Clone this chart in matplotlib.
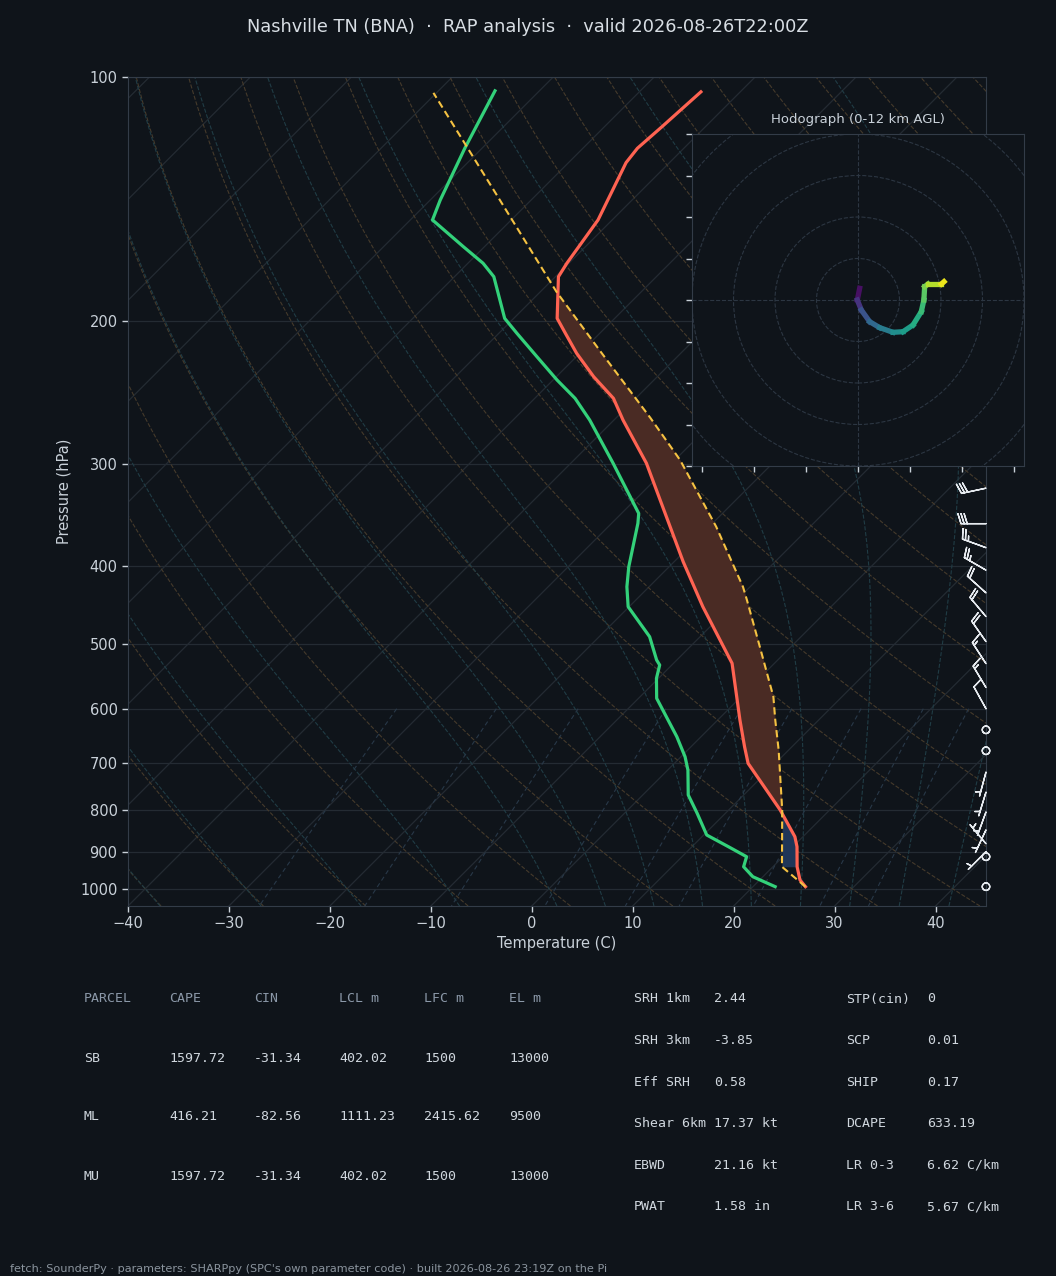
import numpy as np
import matplotlib
matplotlib.use('Agg')
import matplotlib.pyplot as plt
import matplotlib.transforms as mtransforms
from matplotlib.collections import LineCollection
from matplotlib.colors import Normalize
from matplotlib.patches import Circle

# ---- environment sounding (hPa, degC) ----
temp_p = [994, 975.4, 939.4, 887.4, 862.6, 799.7, 700.6, 668.3, 619.6, 527.5,
          449.3, 395.5, 299.1, 264.6, 248.8, 234.0, 219.0, 206.9, 198.3, 176.2,
          169.6, 150.0, 127.5, 122.4, 115.1, 104.3]
temp_c = [25.2, 24.0, 22.4, 20.4, 19.2, 15.1, 7.3, 5.3, 2.2, -4.2,
          -12.7, -19.1, -32.5, -39.1, -42.2, -46.3, -50.3, -53.4, -55.7, -59.7,
          -60.2, -61.4, -64.3, -64.6, -64.3, -63.9]

dewp_p = [994, 966.3, 939.4, 913.0, 887.4, 858.5, 807.2, 766.3, 714.0, 687.6,
          649.6, 582.6, 550.5, 530.1, 522.6, 489.2, 449.3, 424.6, 401.1, 354.6,
          344.8, 299.1, 264.6, 248.8, 236.2, 221.1, 206.9, 198.3, 176.2, 169.6,
          161.8, 150.0, 141.8, 122.4, 104.0]
dewp_c = [22.2, 19.0, 17.1, 16.4, 13.6, 10.3, 7.2, 4.5, 2.0, 0.4,
          -2.4, -8.2, -10.2, -11.2, -12.0, -15.0, -20.1, -22.2, -24.0, -27.4,
          -28.3, -35.8, -42.4, -46.0, -49.6, -53.9, -58.2, -60.9, -66.1, -68.5,
          -72.1, -77.8, -79.0, -81.7, -84.4]

# surface-based parcel path
parcel_p = [994, 939.4, 799.7, 674.5, 619.6, 579.9, 503.2, 440.8, 424.6, 358.1,
            296.3, 263.0, 219.0, 183.9, 137.8, 104.6]
parcel_c = [25.2, 20.9, 15.3, 9.0, 5.7, 3.2, -3.1, -9.0, -10.7, -19.3,
            -29.5, -36.6, -47.8, -58.4, -74.7, -90.3]
lcl_p, lfc_p, el_p = 939.4, 799.7, 183.9

# wind barbs (hPa, deg, kt)
barb_p = [121, 140, 165, 195, 230, 265, 295,
          321, 355, 380, 405, 432, 462, 496, 528, 565, 600,
          637, 676, 718, 760, 804, 846, 880, 900, 913, 994]
barb_dir = [260, 260, 262, 262, 260, 258, 258,
            258, 270, 290, 300, 312, 320, 325, 327, 329, 331,
            0, 0, 195, 197, 200, 205, 320, 225, 0, 0]
barb_kt = [35, 35, 35, 35, 35, 30, 30,
           30, 30, 25, 25, 20, 20, 20, 15, 15, 10,
           0, 0, 5, 5, 5, 5, 5, 5, 0, 0]

# hodograph (m/s) and height (km AGL)
hodo_u = [0.32, -0.13, 0.64, 2.25, 4.18, 6.75, 8.68, 10.6, 12.2, 12.7, 12.85, 13.5, 16.07, 16.58]
hodo_v = [2.25, 0.0, -1.93, -4.18, -5.33, -6.23, -6.11, -4.82, -2.25, 0.0, 2.57, 3.08, 3.08, 3.53]
hodo_z = [0, 1.0, 2.5, 3.6, 4.5, 5.5, 6.3, 7.0, 7.8, 8.6, 9.3, 10.0, 11.3, 12.0]
hodo_rings = [8, 16, 24, 32, 40]

# parameter tables
parcel_cols = ['PARCEL', 'CAPE', 'CIN', 'LCL m', 'LFC m', 'EL m']
parcel_rows = [['SB', '1597.72', '-31.34', '402.02', '1500', '13000'],
               ['ML', '416.21', '-82.56', '1111.23', '2415.62', '9500'],
               ['MU', '1597.72', '-31.34', '402.02', '1500', '13000']]
param_left = [('SRH 1km', '2.44'), ('SRH 3km', '-3.85'), ('Eff SRH', '0.58'),
              ('Shear 6km', '17.37 kt'), ('EBWD', '21.16 kt'), ('PWAT', '1.58 in')]
param_right = [('STP(cin)', '0'), ('SCP', '0.01'), ('SHIP', '0.17'),
               ('DCAPE', '633.19'), ('LR 0-3', '6.62 C/km'), ('LR 3-6', '5.67 C/km')]

BG = '#0f141a'
SPINE = '#333c48'
GRID = '#242b33'
TXT = '#c9d1d9'
DIM = '#8b98a8'


def sat_vp(t_c):
    return 6.112 * np.exp(17.67 * t_c / (t_c + 243.5))


def moist_lapse(pres, t0_c, p0=1000.0):
    # pseudo-adiabat, RK4 in pressure
    Rd, Cp, Lv, eps = 287.04, 1005.7, 2.501e6, 0.622

    def dtdp(p, t):
        es = sat_vp(t - 273.15)
        rs = eps * es / (p - es)
        return (Rd * t + Lv * rs) / (Cp + Lv ** 2 * rs * eps / (Rd * t ** 2)) / p

    out = np.zeros((len(t0_c), len(pres)))
    for j, t0 in enumerate(t0_c):
        for i, pt in enumerate(pres):
            t = t0 + 273.15
            p = p0
            n = max(2, int(abs(pt - p0) / 4))
            h = (pt - p0) / n
            for _ in range(n):
                k1 = dtdp(p, t)
                k2 = dtdp(p + h / 2, t + h / 2 * k1)
                k3 = dtdp(p + h / 2, t + h / 2 * k2)
                k4 = dtdp(p + h, t + h * k3)
                t += h / 6 * (k1 + 2 * k2 + 2 * k3 + k4)
                p += h
            out[j, i] = t - 273.15
    return out


fig = plt.figure(figsize=(10.56, 12.76), dpi=100, facecolor=BG)
ax = fig.add_axes([128 / 1056, 370 / 1276, 858 / 1056, 829 / 1276])
ax.set_facecolor(BG)
ax.set_yscale('log')
ax.set_ylim(1050, 100)
ax.set_xlim(-40, 45)

# skew 45 deg in screen space
w_in = 858 / 1056 * 10.56
h_in = 829 / 1276 * 12.76
skew = mtransforms.Affine2D().skew_deg(np.degrees(np.arctan(h_in / w_in)), 0)
trans = ax.transScale + ax.transLimits + skew + ax.transAxes

p_full = np.geomspace(1050, 100, 60)

# isotherms
for t in range(-120, 50, 10):
    ax.plot([t, t], [1050, 100], transform=trans, color=GRID, lw=0.9, zorder=1)

# dry adiabats
for t0 in range(-40, 240, 10):
    t = (t0 + 273.15) * (p_full / 1000.0) ** 0.2857 - 273.15
    ax.plot(t, p_full, transform=trans, color='#453a2b', lw=0.8, ls='--', zorder=1)

# moist adiabats
p_moist = np.geomspace(1050, 100, 40)
t0_moist = np.concatenate((np.arange(-40, 0, 10), np.arange(0, 46, 5)))
for row in moist_lapse(p_moist, t0_moist):
    ax.plot(row, p_moist, transform=trans, color='#203c45', lw=0.8, ls='--', zorder=1)

# mixing ratio lines
p_mix = np.linspace(600, 1050, 20)
for w in [0.0004, 0.001, 0.002, 0.004, 0.007, 0.01, 0.016, 0.024, 0.032]:
    e = w * p_mix / (0.622 + w)
    lg = np.log(e / 6.112)
    td = 243.5 * lg / (17.67 - lg)
    ax.plot(td, p_mix, transform=trans, color='#283848', lw=0.8, ls=(0, (4, 3)), zorder=1)

# CAPE / CIN shading
lp_env = np.log(temp_p)[::-1]
lp_par = np.log(parcel_p)[::-1]
p_cape = np.geomspace(lfc_p, el_p, 200)
env_c = np.interp(np.log(p_cape), lp_env, np.array(temp_c)[::-1])
par_c = np.interp(np.log(p_cape), lp_par, np.array(parcel_c)[::-1])
ax.fill_betweenx(p_cape, env_c, par_c, where=par_c >= env_c, transform=trans,
                 color='#4a2b24', lw=0, zorder=2)
p_cin = np.geomspace(lcl_p, lfc_p, 60)
env_c = np.interp(np.log(p_cin), lp_env, np.array(temp_c)[::-1])
par_c = np.interp(np.log(p_cin), lp_par, np.array(parcel_c)[::-1])
ax.fill_betweenx(p_cin, env_c, par_c, where=par_c <= env_c, transform=trans,
                 color='#1f3658', lw=0, zorder=2)

# profiles
ax.plot(temp_c, temp_p, transform=trans, color='#ff6352', lw=2.3, zorder=5)
ax.plot(dewp_c, dewp_p, transform=trans, color='#33d17a', lw=2.3, zorder=5)
ax.plot(parcel_c, parcel_p, transform=trans, color='#f5c242', lw=1.5,
        ls=(0, (3.5, 2)), zorder=5)

# wind barbs on the right edge
wd = np.radians(barb_dir)
spd = np.array(barb_kt, dtype=float)
bu = -spd * np.sin(wd)
bv = -spd * np.cos(wd)
ax.barbs(np.ones(len(barb_p)), barb_p, bu, bv, transform=ax.get_yaxis_transform(),
         clip_on=False, length=6, color='#e6eaef', linewidth=1.0, zorder=6)

# axes styling
ticks_p = [100, 200, 300, 400, 500, 600, 700, 800, 900, 1000]
ax.set_yticks(ticks_p)
ax.set_yticklabels([str(p) for p in ticks_p])
ax.yaxis.set_minor_locator(matplotlib.ticker.NullLocator())
ax.set_xticks(range(-40, 50, 10))
ax.grid(axis='y', color=GRID, lw=0.9)
ax.grid(axis='x', visible=False)
ax.set_axisbelow(True)
for s in ax.spines.values():
    s.set_color(SPINE)
ax.tick_params(colors=TXT, labelsize=10.5, length=4, width=1)
ax.set_xlabel('Temperature (C)', color=TXT, fontsize=10.5, labelpad=3)
ax.set_ylabel('Pressure (hPa)', color=TXT, fontsize=10.5, labelpad=6)

fig.text(0.5, 1 - 27 / 1276, 'Nashville TN (BNA)  \u00b7  RAP analysis  \u00b7  valid 2026-08-26T22:00Z',
         ha='center', va='center', color='#d8dee4', fontsize=12.8)

# hodograph inset
hax = fig.add_axes([692 / 1056, (1276 - 466) / 1276, 332 / 1056, 332 / 1276])
hax.set_facecolor(BG)
hax.set_xlim(-32, 32)
hax.set_ylim(-32, 32)
for r in hodo_rings:
    hax.add_patch(Circle((0, 0), r, fill=False, ls='--', lw=0.8, color='#2c3642'))
hax.axhline(0, ls='--', lw=0.8, color='#2c3642')
hax.axvline(0, ls='--', lw=0.8, color='#2c3642')
pts = np.column_stack([hodo_u, hodo_v])
segs = np.stack([pts[:-1], pts[1:]], axis=1)
lc = LineCollection(segs, cmap='viridis', norm=Normalize(0, 12), linewidths=3.8,
                    capstyle='projecting', zorder=3)
z = np.array(hodo_z)
lc.set_array((z[:-1] + z[1:]) / 2)
hax.add_collection(lc)
hax.set_xticks(range(-30, 31, 10))
hax.set_yticks(range(-32, 33, 8))
hax.tick_params(colors='#c9d1d9', length=4, width=1, labelleft=False, labelbottom=False)
for s in hax.spines.values():
    s.set_color(SPINE)
hax.set_title('Hodograph (0-12 km AGL)', color=TXT, fontsize=9.5, pad=8)

# parameter table
mono = 'DejaVu Sans Mono'
col_x = [84, 169, 254, 339, 424, 509]
for cx, name in zip(col_x, parcel_cols):
    fig.text(cx / 1056, 1 - 999 / 1276, name, family=mono, fontsize=9.5, color=DIM, va='center')
for ri, row in enumerate(parcel_rows):
    y = 1058 + ri * 59
    for cx, val in zip(col_x, row):
        fig.text(cx / 1056, 1 - y / 1276, val, family=mono, fontsize=9.5, color='#d0d7de', va='center')
for ri, ((k1, v1), (k2, v2)) in enumerate(zip(param_left, param_right)):
    y = 1 - (999 + ri * 41.6) / 1276
    fig.text(634 / 1056, y, k1, family=mono, fontsize=9.5, color='#d0d7de', va='center')
    fig.text(714 / 1056, y, v1, family=mono, fontsize=9.5, color='#d0d7de', va='center')
    fig.text(846 / 1056, y, k2, family=mono, fontsize=9.5, color='#d0d7de', va='center')
    fig.text(927 / 1056, y, v2, family=mono, fontsize=9.5, color='#d0d7de', va='center')

fig.text(10 / 1056, 1 - 1269 / 1276,
         "fetch: SounderPy \u00b7 parameters: SHARPpy (SPC's own parameter code) \u00b7 built 2026-08-26 23:19Z on the Pi",
         color='#8b949e', fontsize=8.15, va='center')

fig.savefig('out.png', dpi=100, facecolor=BG)
